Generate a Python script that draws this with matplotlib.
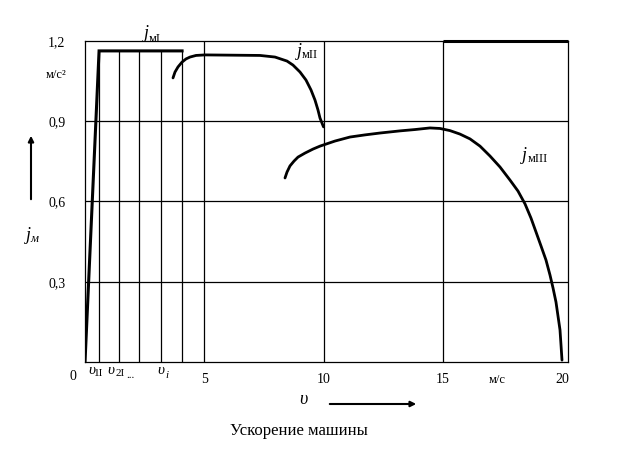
import matplotlib
matplotlib.use("Agg")
import matplotlib.pyplot as plt
from matplotlib.patches import FancyArrowPatch

plt.rcParams['font.family'] = ['Liberation Serif', 'DejaVu Serif']

# ---- data ----
x_ticks = [5, 10, 15, 20]
x_tick_labels = ["5", "10", "15", "20"]
y_ticks = [0.3, 0.6, 0.9, 1.2]
y_tick_labels = ["0,3", "0,6", "0,9", "1,2"]
grid_x = [5, 10, 15]
grid_y = [0.3, 0.6, 0.9]

# jmI : linear rise then constant
jm1_x = [0.0, 0.59, 4.07]
jm1_y = [0.0, 1.163, 1.163]
# thin step lines v1I, v2I, ... vi
step_x = [0.59, 1.43, 2.26, 3.19, 4.07]
step_top = 1.163

# jmII
jm2_x = [3.690, 3.774, 3.899, 4.067, 4.235, 4.403, 4.654, 5.031, 7.338, 7.966,
         8.470, 8.721, 9.015, 9.266, 9.476, 9.644, 9.769, 9.853, 10.0]
jm2_y = [1.062, 1.084, 1.103, 1.121, 1.133, 1.140, 1.146, 1.148, 1.146, 1.140,
         1.125, 1.110, 1.084, 1.054, 1.017, 0.979, 0.942, 0.912, 0.879]

# jmIII
jm3_x = [8.386, 8.470, 8.595, 8.763, 8.931, 9.224, 9.560, 9.853, 10.482, 11.111,
         11.740, 12.369, 13.208, 13.836, 14.465, 14.885, 15.304, 15.723, 16.143,
         16.562, 16.981, 17.400, 17.820, 18.155, 18.449, 18.700, 18.910, 19.119,
         19.329, 19.497, 19.623, 19.748, 19.832, 19.916, 19.958, 20.0]
jm3_y = [0.688, 0.710, 0.733, 0.751, 0.766, 0.781, 0.796, 0.807, 0.826, 0.841,
         0.849, 0.856, 0.864, 0.869, 0.875, 0.873, 0.865, 0.852, 0.834,
         0.807, 0.770, 0.729, 0.680, 0.639, 0.591, 0.538, 0.486, 0.434,
         0.381, 0.325, 0.277, 0.224, 0.172, 0.120, 0.064, 0.007]

W, H = 630, 450
fig = plt.figure(figsize=(W / 100, H / 100), dpi=100)

def fx(px):
    return px / W

def fy(py):
    return 1 - py / H

L, R, T, B = 85, 568, 41, 362
ax = fig.add_axes([fx(L), fy(B), (R - L) / W, (B - T) / H])
xmax = (R - L) / 23.85
ax.set_xlim(0, xmax)
ax.set_ylim(0, 1.2)

for s in ax.spines.values():
    s.set_linewidth(0.9)
    s.set_color('black')

thin = 0.9
for gx in grid_x:
    ax.axvline(gx, color='black', lw=thin)
for gy in grid_y:
    ax.axhline(gy, color='black', lw=thin)
for sx in step_x:
    ax.plot([sx, sx], [0, step_top], color='black', lw=thin)

# thicker top segment on the right
ax.plot([15, xmax], [1.2, 1.2], color='black', lw=2.2, solid_capstyle='butt', clip_on=False)

ax.plot(jm1_x, jm1_y, color='black', lw=2.2, solid_joinstyle='miter')
ax.plot(jm2_x, jm2_y, color='black', lw=2.0, solid_joinstyle='round', solid_capstyle='round')
ax.plot(jm3_x, jm3_y, color='black', lw=2.0, solid_joinstyle='round', solid_capstyle='round')

ax.set_xticks(x_ticks)
ax.set_xticklabels(x_tick_labels, fontsize=10)
ax.set_yticks(y_ticks)
ax.set_yticklabels(y_tick_labels, fontsize=10)
ax.tick_params(axis='x', length=0, pad=8)
ax.tick_params(axis='y', length=0, pad=14)

def t(px, py, s, **kw):
    fig.text(fx(px), fy(py), s, ha=kw.pop('ha', 'center'), va=kw.pop('va', 'center'), **kw)

t(73, 377, "0", fontsize=10)
t(497, 380, "м/с", fontsize=9)
t(56, 75, "м/с²", fontsize=9)

# curve labels
t(146, 34, "j", fontsize=13, style='italic')
t(155, 39, "мI", fontsize=9)
t(299, 51, "j", fontsize=13, style='italic')
t(310, 55, "мII", fontsize=9)
t(524, 155, "j", fontsize=13, style='italic')
t(538, 159, "мIII", fontsize=9)

# v sub-labels under x axis
t(92, 371, "υ", fontsize=11, style='italic')
t(99, 374, "1I", fontsize=8)
t(111, 371, "υ", fontsize=11, style='italic')
t(120, 374, "2I", fontsize=8)
t(130, 375, "...", fontsize=8)
t(161, 371, "υ", fontsize=11, style='italic')
t(167, 375, "i", fontsize=8, style='italic')

# y axis label with arrow
t(28, 235, "j", fontsize=13, style='italic')
t(34, 239, "м", fontsize=9, style='italic')
fig.add_artist(FancyArrowPatch(
    (fx(31), fy(202)), (fx(31), fy(133)), transform=fig.transFigure,
    arrowstyle='-|>', mutation_scale=8, lw=1.5, color='black'))

# x axis label with arrow
t(303, 399, "υ", fontsize=13, style='italic')
fig.add_artist(FancyArrowPatch(
    (fx(327), fy(404)), (fx(419), fy(404)), transform=fig.transFigure,
    arrowstyle='-|>', mutation_scale=8, lw=1.5, color='black'))

t(299, 431, "Ускорение машины", fontsize=12)

fig.savefig("out.png", dpi=100)
